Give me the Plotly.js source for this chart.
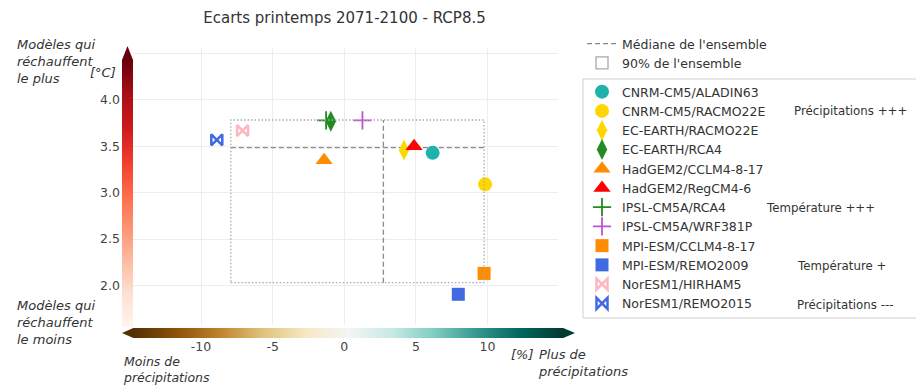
<!DOCTYPE html>
<html>
<head>
<meta charset="utf-8">
<script src="https://cdn.plot.ly/plotly-3.0.1.min.js"></script>
<style>html,body{margin:0;padding:0;background:#fff;}#chart{width:916px;height:385px;}</style>
</head>
<body>
<div id="chart"></div>
<script>
// ---- data ----
const models = ["CNRM-CM5/ALADIN63","CNRM-CM5/RACMO22E","EC-EARTH/RACMO22E","EC-EARTH/RCA4",
  "HadGEM2/CCLM4-8-17","HadGEM2/RegCM4-6","IPSL-CM5A/RCA4","IPSL-CM5A/WRF381P",
  "MPI-ESM/CCLM4-8-17","MPI-ESM/REMO2009","NorESM1/HIRHAM5","NorESM1/REMO2015"];
const precipChange = [6.17, 9.83, 4.17, -0.94, -1.41, 4.87, -1.27, 1.27, 9.76, 7.96, -7.10, -8.90];
const tempChange   = [3.43, 3.09, 3.46, 3.77, 3.35, 3.50, 3.78, 3.78, 2.13, 1.905, 3.67, 3.57];
const symbols = ["circle","circle","diamond-tall","diamond-tall","triangle-up","triangle-up",
  "cross-thin","cross-thin","square","square","bowtie-open","bowtie-open"];
const colors = ["#20b2aa","#ffd700","#ffd700","#228b22","#ff8c00","#ff0000",
  "#228b22","#ba55d3","#ff8c00","#4169e1","#ffb6c1","#4169e1"];
const tags = {1:"Précipitations +++", 6:"Température +++", 9:"Température +", 11:"Précipitations ---"};

const medianPrecip = 2.73, medianTemp = 3.486;
const p05Precip = -7.92, p95Precip = 9.76;
const p05Temp = 2.03, p95Temp = 3.784;

const xTickVals = [-10, -5, 0, 5, 10];
const xTickText = ["-10", "-5", "0", "5", "10"];
const yTickVals = [2.0, 2.5, 3.0, 3.5, 4.0, 4.5];
const yTickText = ["2.0", "2.5", "3.0", "3.5", "4.0", ""];

const redsScale = [[0,"#fff5f0"],[0.125,"#fee0d2"],[0.25,"#fcbba1"],[0.375,"#fc9272"],[0.5,"#fb6a4a"],
  [0.625,"#ef3b2c"],[0.75,"#cb181d"],[0.875,"#a50f15"],[1,"#67000d"]];
const brbgScale = [[0,"#543005"],[0.1,"#8c510a"],[0.2,"#bf812d"],[0.3,"#dfc27d"],[0.4,"#f6e8c3"],
  [0.5,"#f5f5f5"],[0.6,"#c7eae5"],[0.7,"#80cdc1"],[0.8,"#35978f"],[0.9,"#01665e"],[1,"#003c30"]];

// ---- layout helpers (pixel -> paper) ----
const L = 100, R = 331, T = 40, B = 40, W = 916, H = 385;
const PW = W - L - R, PH = H - T - B;
const px = v => (v - L) / PW;
const py = v => (H - B - v) / PH;

function markerSize(s) {
  if (s.indexOf("cross") >= 0) return 13;
  if (s.indexOf("bowtie") >= 0) return 11;
  if (s.indexOf("triangle") >= 0) return 15;
  if (s.indexOf("diamond") >= 0) return 15;
  if (s === "circle") return 14;
  return 13;
}

const traces = [];
models.forEach((m, i) => {
  const open = symbols[i].indexOf("open") >= 0 || symbols[i].indexOf("thin") >= 0;
  traces.push({
    type: "scatter", mode: "markers", name: m, legend: "legend",
    x: [precipChange[i]], y: [tempChange[i]],
    marker: {symbol: symbols[i], color: colors[i], size: markerSize(symbols[i]),
      line: open ? {color: colors[i], width: symbols[i].indexOf("bowtie") >= 0 ? 2.5 : 1.8} : {width: 0}},
    hoverinfo: "name"
  });
});
// median lines
traces.unshift({
  type: "scatter", mode: "lines", name: "Médiane de l'ensemble", legend: "legend2",
  x: [p05Precip, p95Precip, null, medianPrecip, medianPrecip],
  y: [medianTemp, medianTemp, null, p05Temp, p95Temp],
  line: {color: "#888", width: 1.3, dash: "5px,3px"}, hoverinfo: "skip", legendrank: 1
});
// colour strips (decoration)
traces.push({
  type: "scatter", mode: "lines", xaxis: "x2", yaxis: "y2", showlegend: false, hoverinfo: "skip",
  x: [0, 1, 1, 0.5, 0, 0], y: [0, 0, 0.95, 1, 0.95, 0],
  fill: "toself", line: {width: 0},
  fillgradient: {type: "vertical", colorscale: redsScale, start: 0, stop: 0.95}
});
traces.push({
  type: "scatter", mode: "lines", xaxis: "x3", yaxis: "y3", showlegend: false, hoverinfo: "skip",
  x: [0, 0.025, 0.974, 1, 0.974, 0.025, 0], y: [0.5, 0, 0, 0.5, 1, 1, 0.5],
  fill: "toself", line: {width: 0},
  fillgradient: {type: "horizontal", colorscale: brbgScale, start: 0.025, stop: 0.974}
});

const font = "DejaVu Sans, sans-serif";
const annotations = [];
const ann = (text, x, y, xa, ya, size) => annotations.push({
  text: text, xref: "paper", yref: "paper", x: px(x), y: py(y), xanchor: xa, yanchor: ya,
  showarrow: false, align: "left", font: {family: font, size: size || 13, color: "#333"}
});
ann("<i>Modèles qui<br>réchauffent<br>le plus</i>", 15, 35, "left", "top");
ann("<i>[°C]</i>", 118, 72, "right", "middle");
ann("<i>Modèles qui<br>réchauffent<br>le moins</i>", 15, 296, "left", "top");
ann("<i>Moins de<br>précipitations</i>", 121, 352, "left", "top", 12.5);
ann("<i>[%]</i>", 509, 354, "left", "middle");
ann("<i>Plus de<br>précipitations</i>", 536, 345, "left", "top");
const tagX = {1: 792, 6: 764, 9: 795, 11: 795};
const rowY0 = 91.7, rowStep = 19.4;
Object.keys(tags).forEach(k => {
  ann(tags[k], tagX[k], rowY0 + rowStep * k, "left", "middle", 11.8);
});

const layout = {
  width: W, height: H, margin: {l: L, r: R, t: T, b: B},
  paper_bgcolor: "#fff", plot_bgcolor: "#fff",
  font: {family: font, color: "#333"},
  title: {text: "Ecarts printemps 2071-2100 - RCP8.5", font: {family: font, size: 15, color: "#333"},
    xref: "paper", x: px(344.5), xanchor: "center", yref: "container", y: 1 - 18 / H, yanchor: "middle"},
  xaxis: {domain: [px(133), px(558)], range: [-14.75, 14.92], tickvals: xTickVals, ticktext: xTickText,
    showgrid: true, gridcolor: "#ededed", zeroline: false, showline: false, ticks: "",
    tickfont: {family: font, size: 12.5, color: "#444"}, ticklabelstandoff: 12},
  yaxis: {domain: [py(325), py(48)], range: [1.574, 4.56], tickvals: yTickVals, ticktext: yTickText,
    showgrid: true, gridcolor: "#ededed", zeroline: false, showline: false, ticks: "",
    tickfont: {family: font, size: 12.5, color: "#444"}, ticklabelstandoff: 12},
  xaxis2: {domain: [px(122), px(133)], range: [0, 1], visible: false, fixedrange: true},
  yaxis2: {domain: [py(327), py(46)], range: [0, 1], visible: false, fixedrange: true},
  xaxis3: {domain: [px(122), px(575)], range: [0, 1], visible: false, fixedrange: true},
  yaxis3: {domain: [py(338), py(328)], range: [0, 1], visible: false, fixedrange: true},
  legend: {x: px(582), y: py(77), xanchor: "left", yanchor: "top", bgcolor: "rgba(0,0,0,0)",
    borderwidth: 0, font: {family: font, size: 12.5, color: "#333"}, tracegroupgap: 0},
  legend2: {x: px(582), y: py(29), xanchor: "left", yanchor: "top", bgcolor: "rgba(0,0,0,0)",
    borderwidth: 0, font: {family: font, size: 12.5, color: "#333"}},
  shapes: [
    {type: "rect", xref: "x", yref: "y", x0: p05Precip, x1: p95Precip, y0: p05Temp, y1: p95Temp,
     line: {color: "#aaa", width: 1.3, dash: "1.5px,2px"}, fillcolor: "rgba(0,0,0,0)",
     showlegend: true, legend: "legend2", name: "90% de l'ensemble", legendrank: 2},
    {type: "rect", xref: "paper", yref: "paper", x0: px(583), x1: px(930), y0: py(318), y1: py(79),
     line: {color: "#cfcfcf", width: 1}, fillcolor: "rgba(0,0,0,0)", layer: "below"}
  ],
  annotations: annotations,
  showlegend: true
};

Plotly.newPlot("chart", traces, layout, {displayModeBar: false, staticPlot: true});
</script>
</body>
</html>
